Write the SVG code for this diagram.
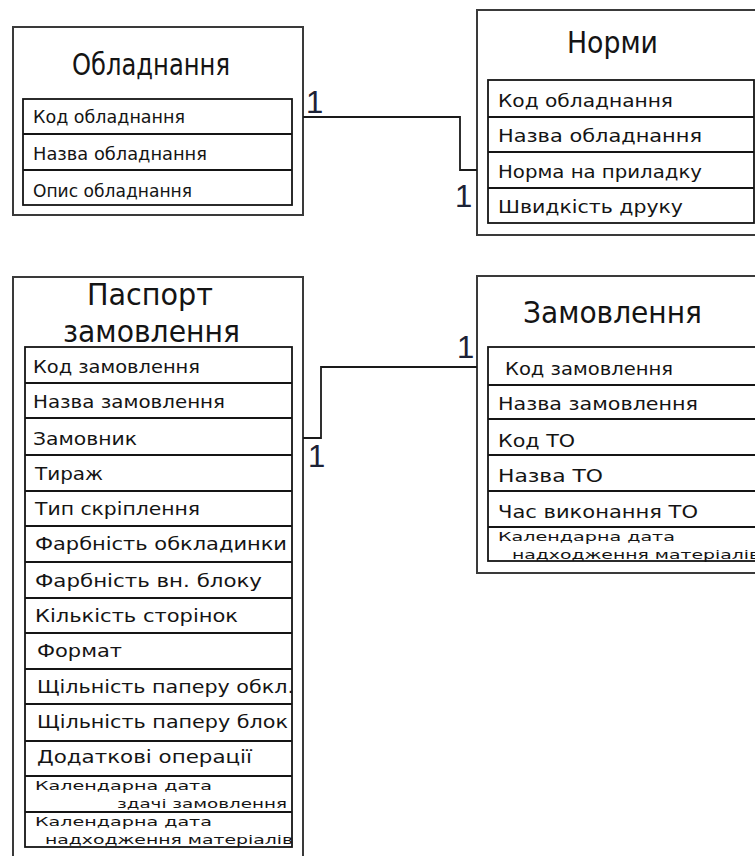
<svg xmlns="http://www.w3.org/2000/svg" width="755" height="856" viewBox="0 0 755 856">
  <style>
    .frame { fill: #fff; stroke: #3a3a3a; stroke-width: 2; }
    .table { fill: none; stroke: #151515; stroke-width: 1.8; }
    .rule { stroke: #151515; stroke-width: 1.8; }
    .link { fill: none; stroke: #1a1a1a; stroke-width: 1.8; }
    text { font-family: "DejaVu Sans", "Liberation Sans", sans-serif; fill: #141414; }
    .title { font-size: 30px; }
    .field { font-size: 18px; }
    .small { font-size: 13px; }
    .card { font-family: "Liberation Sans", sans-serif; font-size: 31px; fill: #1c2236; }
  </style>
  <rect width="755" height="856" fill="#fff"/>

  <!-- Обладнання -->
  <g id="obladnannia">
    <rect class="frame" x="13" y="27" width="290" height="188"/>
    <text class="title" x="72" y="75" textLength="158" lengthAdjust="spacingAndGlyphs">Обладнання</text>
    <rect class="table" x="23" y="99" width="269" height="106"/>
    <line class="rule" x1="23" y1="134" x2="292" y2="134"/>
    <line class="rule" x1="23" y1="170" x2="292" y2="170"/>
    <text class="field" x="33" y="123" textLength="152" lengthAdjust="spacingAndGlyphs">Код обладнання</text>
    <text class="field" x="33" y="160" textLength="174" lengthAdjust="spacingAndGlyphs">Назва обладнання</text>
    <text class="field" x="33" y="197" textLength="159" lengthAdjust="spacingAndGlyphs">Опис обладнання</text>
  </g>

  <!-- Норми -->
  <g id="normy">
    <rect class="frame" x="477" y="10" width="300" height="225"/>
    <text class="title" x="567" y="53" textLength="91" lengthAdjust="spacingAndGlyphs">Норми</text>
    <rect class="table" x="488" y="80" width="266" height="143"/>
    <line class="rule" x1="488" y1="117" x2="754" y2="117"/>
    <line class="rule" x1="488" y1="152" x2="754" y2="152"/>
    <line class="rule" x1="488" y1="188" x2="754" y2="188"/>
    <text class="field" x="498" y="107" textLength="175" lengthAdjust="spacingAndGlyphs">Код обладнання</text>
    <text class="field" x="498" y="142" textLength="204" lengthAdjust="spacingAndGlyphs">Назва обладнання</text>
    <text class="field" x="498" y="178" textLength="204" lengthAdjust="spacingAndGlyphs">Норма на приладку</text>
    <text class="field" x="498" y="213" textLength="185" lengthAdjust="spacingAndGlyphs">Швидкість друку</text>
  </g>

  <!-- Паспорт замовлення -->
  <g id="pasport-zamovlennia">
    <rect class="frame" x="13" y="277" width="290" height="600"/>
    <text class="title" x="87" y="305" textLength="126" lengthAdjust="spacingAndGlyphs">Паспорт</text>
    <text class="title" x="63" y="342" textLength="177" lengthAdjust="spacingAndGlyphs">замовлення</text>
    <rect class="table" x="25" y="347" width="267" height="500"/>
    <g class="rule">
      <line x1="25" y1="383" x2="292" y2="383"/>
      <line x1="25" y1="418" x2="292" y2="418"/>
      <line x1="25" y1="455" x2="292" y2="455"/>
      <line x1="25" y1="491" x2="292" y2="491"/>
      <line x1="25" y1="526" x2="292" y2="526"/>
      <line x1="25" y1="562" x2="292" y2="562"/>
      <line x1="25" y1="598" x2="292" y2="598"/>
      <line x1="25" y1="633" x2="292" y2="633"/>
      <line x1="25" y1="669" x2="292" y2="669"/>
      <line x1="25" y1="704" x2="292" y2="704"/>
      <line x1="25" y1="741" x2="292" y2="741"/>
      <line x1="25" y1="776" x2="292" y2="776"/>
      <line x1="25" y1="812" x2="292" y2="812"/>
    </g>
    <text class="field" x="33" y="373" textLength="167" lengthAdjust="spacingAndGlyphs">Код замовлення</text>
    <text class="field" x="33" y="408" textLength="192" lengthAdjust="spacingAndGlyphs">Назва замовлення</text>
    <text class="field" x="33" y="445" textLength="104" lengthAdjust="spacingAndGlyphs">Замовник</text>
    <text class="field" x="35" y="480" textLength="68" lengthAdjust="spacingAndGlyphs">Тираж</text>
    <text class="field" x="35" y="515" textLength="165" lengthAdjust="spacingAndGlyphs">Тип скріплення</text>
    <text class="field" x="35" y="550" textLength="252" lengthAdjust="spacingAndGlyphs">Фарбність обкладинки</text>
    <text class="field" x="35" y="587" textLength="227" lengthAdjust="spacingAndGlyphs">Фарбність вн. блоку</text>
    <text class="field" x="35" y="622" textLength="203" lengthAdjust="spacingAndGlyphs">Кількість сторінок</text>
    <text class="field" x="37" y="657" textLength="85" lengthAdjust="spacingAndGlyphs">Формат</text>
    <text class="field" x="37" y="693" textLength="257" lengthAdjust="spacingAndGlyphs">Щільність паперу обкл.</text>
    <text class="field" x="37" y="728" textLength="251" lengthAdjust="spacingAndGlyphs">Щільність паперу блок</text>
    <text class="field" x="37" y="763" textLength="215" lengthAdjust="spacingAndGlyphs">Додаткові операції</text>
    <text class="small" x="35" y="790" textLength="177" lengthAdjust="spacingAndGlyphs">Календарна дата</text>
    <text class="small" x="117" y="808" textLength="170" lengthAdjust="spacingAndGlyphs">здачі замовлення</text>
    <text class="small" x="35" y="826" textLength="177" lengthAdjust="spacingAndGlyphs">Календарна дата</text>
    <text class="small" x="45" y="844" textLength="248" lengthAdjust="spacingAndGlyphs">надходження матеріалів</text>
  </g>

  <!-- Замовлення -->
  <g id="zamovlennia">
    <rect class="frame" x="477" y="276" width="300" height="297"/>
    <text class="title" x="523" y="323" textLength="179" lengthAdjust="spacingAndGlyphs">Замовлення</text>
    <rect class="table" x="488" y="347" width="290" height="214"/>
    <g class="rule">
      <line x1="488" y1="385" x2="778" y2="385"/>
      <line x1="488" y1="419" x2="778" y2="419"/>
      <line x1="488" y1="455" x2="778" y2="455"/>
      <line x1="488" y1="491" x2="778" y2="491"/>
      <line x1="488" y1="527" x2="778" y2="527"/>
    </g>
    <text class="field" x="505" y="375" textLength="168" lengthAdjust="spacingAndGlyphs">Код замовлення</text>
    <text class="field" x="498" y="410" textLength="200" lengthAdjust="spacingAndGlyphs">Назва  замовлення</text>
    <text class="field" x="498" y="447" textLength="77" lengthAdjust="spacingAndGlyphs">Код ТО</text>
    <text class="field" x="498" y="482" textLength="105" lengthAdjust="spacingAndGlyphs">Назва ТО</text>
    <text class="field" x="498" y="518" textLength="200" lengthAdjust="spacingAndGlyphs">Час виконання ТО</text>
    <text class="small" x="498" y="541" textLength="177" lengthAdjust="spacingAndGlyphs">Календарна дата</text>
    <text class="small" x="512" y="559" textLength="248" lengthAdjust="spacingAndGlyphs">надходження матеріалів</text>
  </g>

  <!-- one-to-one links -->
  <g id="connectors">
    <path class="link" d="M303,117 H460 V170 H477"/>
    <path class="link" d="M303,438 H321 V367 H477"/>
  </g>

  <!-- cardinality marks -->
  <g id="cardinality">
    <text class="card" x="306" y="113">1</text>
    <text class="card" x="455" y="207">1</text>
    <text class="card" x="308" y="467">1</text>
    <text class="card" x="457" y="358">1</text>
  </g>
</svg>
